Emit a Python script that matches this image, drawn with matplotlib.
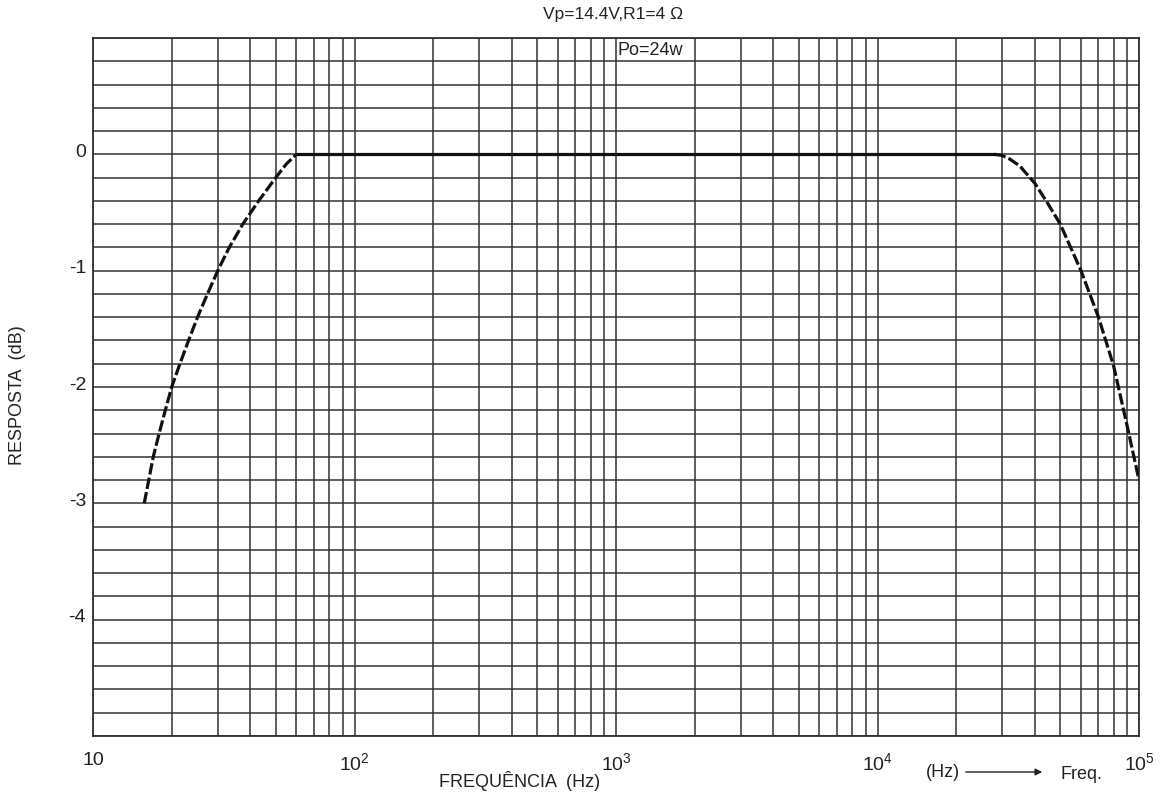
import matplotlib
matplotlib.use("Agg")
import matplotlib.pyplot as plt
import matplotlib.transforms as mtransforms
import numpy as np

plt.rcParams['font.family'] = ['Liberation Sans', 'DejaVu Sans']
plt.rcParams['mathtext.fontset'] = 'custom'
plt.rcParams['mathtext.rm'] = 'Liberation Sans'

# ---- data ----
low_freq = [15.7, 17.0, 17.9, 18.9, 20.0, 21.5, 23.2, 25.1, 27.4, 30.0, 33.2, 37.4, 43.0, 50.0, 55.0, 60.0]
low_db = [-3.0, -2.6, -2.4, -2.2, -2.0, -1.8, -1.6, -1.4, -1.2, -1.0, -0.8, -0.6, -0.4, -0.2, -0.08, 0.0]
mid_freq = [60, 100, 1000, 10000, 28000]
mid_db = [0.0, 0.0, 0.0, 0.0, 0.0]
high_freq = [28000, 30000, 32000, 35000, 40000, 45000, 50000, 60000, 70000, 80000, 90000, 100000]
high_db = [0.0, -0.01, -0.04, -0.1, -0.25, -0.43, -0.6, -1.0, -1.4, -1.82, -2.33, -2.8]

x_ticks = [10, 100, 1000, 10000, 100000]
x_tick_labels = ['10', r'$\mathregular{10^{2}}$', r'$\mathregular{10^{3}}$',
                 r'$\mathregular{10^{4}}$', r'$\mathregular{10^{5}}$']
y_ticks = [0, -1, -2, -3, -4]
y_tick_labels = ['0', '-1', '-2', '-3', '-4']

title = 'Vp=14.4V,R1=4 Ω'
box_text = 'Po=24w'
x_label = 'FREQUÊNCIA  (Hz)'
y_label = 'RESPOSTA  (dB)'

W, H = 1171, 803
fig = plt.figure(figsize=(W / 100, H / 100), dpi=100)
ax = fig.add_axes([93 / W, 1 - 737 / H, (1139 - 93) / W, (737 - 39) / H])

ax.set_xscale('log')
ax.set_xlim(10, 100000)
ax.set_ylim(-5, 1)

gridc = '#333333'
ax.set_yticks(y_ticks)
ax.set_yticks(np.arange(-5, 1.01, 0.2), minor=True)
ax.set_xticks(x_ticks)
ax.xaxis.set_minor_locator(matplotlib.ticker.LogLocator(base=10, subs=np.arange(2, 10)))
ax.xaxis.set_minor_formatter(matplotlib.ticker.NullFormatter())
ax.yaxis.set_minor_formatter(matplotlib.ticker.NullFormatter())
ax.set_xticklabels(x_tick_labels, fontsize=14, color='#222222')
ax.set_yticklabels(y_tick_labels, fontsize=14, color='#222222')
ax.tick_params(which='both', length=0)
ax.tick_params(axis='x', pad=11)
ax.tick_params(axis='y', pad=5)
ax.grid(True, which='both', color=gridc, linewidth=1.1)
ax.set_axisbelow(True)
for s in ax.spines.values():
    s.set_color(gridc)
    s.set_linewidth(1.3)

# shift y tick labels up slightly
off = mtransforms.ScaledTranslation(0, 5 / 100, fig.dpi_scale_trans)
for lbl in ax.get_yticklabels():
    lbl.set_transform(lbl.get_transform() + off)

# curve
lc = '#111111'
ax.plot(low_freq, low_db, color=lc, lw=2.3, dashes=(3.6, 1.0), zorder=5)
ax.plot(mid_freq, mid_db, color=lc, lw=2.3, zorder=5)
ax.plot(high_freq, high_db, color=lc, lw=2.3, dashes=(3.6, 1.0), zorder=5)

# Po box
ax.text(1015, 0.9, box_text, fontsize=13, va='center', ha='left', color='#222222', zorder=6)

# texts
fig.text(613 / W, 1 - 15 / H, title, fontsize=12.5, ha='center', va='center', color='#222222')
fig.text(520 / W, 1 - 781 / H, x_label, fontsize=13, ha='center', va='center', color='#222222')
fig.text(18 / W, 1 - 395 / H, y_label, fontsize=13, ha='center', va='center', rotation=90, color='#222222')
fig.text(943 / W, 1 - 773 / H, '(Hz)', fontsize=13, ha='center', va='center', color='#222222')
fig.text(1081 / W, 1 - 775 / H, 'Freq.', fontsize=13, ha='center', va='center', color='#222222')
fig.add_artist(matplotlib.patches.FancyArrowPatch((963 / W, 1 - 773 / H), (1045 / W, 1 - 773 / H),
               transform=fig.transFigure, arrowstyle='-|>', mutation_scale=10,
               color='#222222', lw=1.0))

fig.savefig('out.png', dpi=100)
